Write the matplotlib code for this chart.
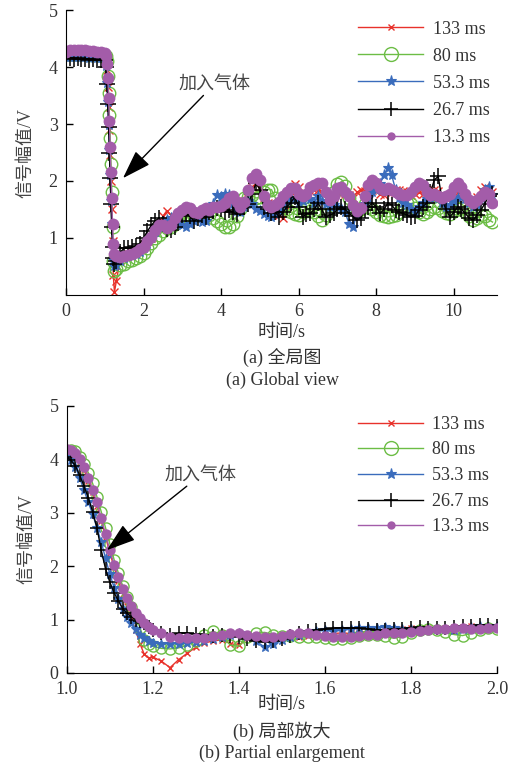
import matplotlib
matplotlib.use("Agg")
import matplotlib.pyplot as plt

plt.rcParams['font.family'] = ['Liberation Serif', 'Noto Sans CJK SC']
plt.rcParams['axes.unicode_minus'] = False

labels = ["133 ms", "80 ms", "53.3 ms", "26.7 ms", "13.3 ms"]

# ---- (a) global view ----
t_global = [0.0, 0.1, 0.2, 0.3, 0.4, 0.5, 0.6, 0.7, 0.8, 0.9, 1.0,
            1.03, 1.06, 1.08, 1.10, 1.12, 1.14, 1.16, 1.18, 1.20, 1.22, 1.25,
            1.3, 1.4, 1.5, 1.6, 1.7, 1.8, 1.9, 2.0, 2.1, 2.2,
            2.3, 2.4, 2.5, 2.6, 2.7, 2.8, 2.9, 3.0, 3.1, 3.2,
            3.3, 3.4, 3.5, 3.6, 3.7, 3.8, 3.9, 4.0, 4.1, 4.2,
            4.3, 4.4, 4.5, 4.6, 4.7, 4.8, 4.9, 5.0, 5.1, 5.2,
            5.3, 5.4, 5.5, 5.6, 5.7, 5.8, 5.9, 6.0, 6.1, 6.2,
            6.3, 6.4, 6.5, 6.6, 6.7, 6.8, 6.9, 7.0, 7.1, 7.2,
            7.3, 7.4, 7.5, 7.6, 7.7, 7.8, 7.9, 8.0, 8.1, 8.2,
            8.3, 8.4, 8.5, 8.6, 8.7, 8.8, 8.9, 9.0, 9.1, 9.2,
            9.3, 9.4, 9.5, 9.6, 9.7, 9.8, 9.9, 10.0, 10.1, 10.2,
            10.3, 10.4, 10.5, 10.6, 10.7, 10.8, 10.9, 11.0]

g_133 = [4.2, 4.2, 4.21, 4.2, 4.2, 4.21, 4.2, 4.2, 4.19, 4.19, 4.18,
         4.15, 3.95, 3.65, 3.3, 2.9, 2.45, 2.0, 1.5, 0.95, 0.35, 0.05,
         0.25, 0.62, 0.7, 0.72, 0.74, 0.78, 0.82, 0.9, 0.95, 1.0,
         1.1, 1.25, 1.38, 1.48, 1.4, 1.32, 1.38, 1.42, 1.48, 1.45,
         1.42, 1.44, 1.48, 1.5, 1.5, 1.52, 1.55, 1.55, 1.58, 1.6,
         1.62, 1.55, 1.58, 1.65, 1.8, 1.9, 1.95, 1.9, 1.7, 1.62,
         1.6, 1.52, 1.4, 1.35, 1.55, 1.8, 1.95, 1.9, 1.8, 1.75,
         1.82, 1.85, 1.85, 1.8, 1.7, 1.65, 1.72, 1.8, 1.8, 1.78,
         1.75, 1.7, 1.8, 1.84, 1.82, 1.8, 1.85, 1.82, 1.78, 1.75,
         1.8, 1.8, 1.85, 1.85, 1.82, 1.8, 1.75, 1.78, 1.8, 1.78,
         1.72, 1.7, 1.85, 1.82, 1.72, 1.7, 1.75, 1.8, 1.8, 1.78,
         1.72, 1.65, 1.6, 1.72, 1.85, 1.9, 1.85, 1.8]
g_80 = [4.23, 4.22, 4.22, 4.23, 4.22, 4.22, 4.21, 4.22, 4.21, 4.21, 4.2,
        4.2, 4.1, 3.85, 3.55, 3.15, 2.75, 2.3, 1.8, 1.2, 0.6, 0.42,
        0.45, 0.52, 0.55, 0.6, 0.62, 0.65, 0.68, 0.73, 0.82, 0.92,
        1.0, 1.05, 1.12, 1.18, 1.2, 1.25, 1.3, 1.32, 1.35, 1.4,
        1.38, 1.4, 1.42, 1.45, 1.4, 1.35, 1.3, 1.25, 1.2, 1.19,
        1.25, 1.38, 1.5, 1.7, 1.72, 1.75, 1.7, 1.72, 1.8, 1.85,
        1.85, 1.7, 1.6, 1.55, 1.5, 1.46, 1.42, 1.4, 1.45, 1.5,
        1.48, 1.45, 1.38, 1.32, 1.4, 1.6, 1.8, 1.95, 1.98, 1.92,
        1.7, 1.55, 1.45, 1.5, 1.6, 1.55, 1.5, 1.45, 1.4, 1.38,
        1.37, 1.38, 1.4, 1.45, 1.55, 1.62, 1.6, 1.52, 1.45, 1.42,
        1.45, 1.5, 1.55, 1.52, 1.48, 1.43, 1.42, 1.48, 1.5, 1.52,
        1.45, 1.38, 1.32, 1.35, 1.4, 1.38, 1.32, 1.28]
g_53 = [4.17, 4.18, 4.17, 4.18, 4.17, 4.17, 4.16, 4.17, 4.16, 4.16, 4.15,
        4.02, 3.72, 3.38, 2.98, 2.55, 2.1, 1.65, 1.25, 0.9, 0.62, 0.5,
        0.52, 0.6, 0.65, 0.68, 0.7, 0.72, 0.76, 0.82, 0.9, 1.0,
        1.1, 1.2, 1.28, 1.32, 1.35, 1.3, 1.25, 1.22, 1.2, 1.25,
        1.3, 1.35, 1.28, 1.3, 1.45, 1.6, 1.75, 1.72, 1.78, 1.75,
        1.6, 1.48, 1.45, 1.55, 1.65, 1.6, 1.5, 1.48, 1.42, 1.38,
        1.37, 1.42, 1.48, 1.58, 1.65, 1.7, 1.68, 1.62, 1.65, 1.72,
        1.68, 1.62, 1.73, 1.65, 1.6, 1.55, 1.58, 1.55, 1.5, 1.45,
        1.25, 1.19, 1.4, 1.5, 1.6, 1.7, 1.8, 1.85, 1.95, 2.1,
        2.22, 2.1, 1.85, 1.7, 1.62, 1.58, 1.5, 1.45, 1.55, 1.62,
        1.68, 1.7, 1.72, 1.7, 1.62, 1.55, 1.58, 1.65, 1.7, 1.72,
        1.68, 1.62, 1.55, 1.58, 1.7, 1.85, 1.9, 1.75]
g_26 = [4.15, 4.15, 4.14, 4.15, 4.14, 4.14, 4.13, 4.14, 4.13, 4.13, 4.12,
        4.0, 3.7, 3.35, 2.95, 2.5, 2.05, 1.6, 1.2, 0.85, 0.65, 0.55,
        0.6, 0.75, 0.82, 0.82, 0.84, 0.86, 0.9, 1.0, 1.12, 1.22,
        1.3, 1.35, 1.25, 1.15, 1.14, 1.2, 1.3, 1.4, 1.42, 1.38,
        1.29, 1.35, 1.4, 1.37, 1.45, 1.48, 1.52, 1.5, 1.45, 1.49,
        1.45, 1.42, 1.52, 1.55, 1.6, 1.78, 1.96, 1.85, 1.55, 1.5,
        1.43, 1.45, 1.37, 1.45, 1.55, 1.62, 1.72, 1.55, 1.37, 1.42,
        1.43, 1.5, 1.61, 1.5, 1.37, 1.4, 1.43, 1.5, 1.55, 1.5,
        1.43, 1.38, 1.31, 1.35, 1.49, 1.55, 1.61, 1.55, 1.43, 1.5,
        1.61, 1.58, 1.49, 1.45, 1.43, 1.4, 1.37, 1.38, 1.49, 1.55,
        1.61, 1.8, 2.02, 2.08, 1.67, 1.5, 1.37, 1.45, 1.55, 1.5,
        1.43, 1.35, 1.31, 1.4, 1.49, 1.6, 1.73, 1.78]
g_13 = [4.27, 4.3, 4.3, 4.29, 4.3, 4.29, 4.28, 4.28, 4.27, 4.27, 4.25,
        4.2, 4.05, 3.8, 3.45, 3.05, 2.6, 2.15, 1.7, 1.25, 0.9, 0.72,
        0.68, 0.66, 0.68, 0.7, 0.72, 0.76, 0.8, 0.85, 0.94, 1.01,
        1.14, 1.23, 1.23, 1.17, 1.23, 1.35, 1.43, 1.49, 1.55, 1.52,
        1.46, 1.43, 1.49, 1.52, 1.49, 1.54, 1.55, 1.56, 1.61, 1.7,
        1.73, 1.64, 1.55, 1.64, 1.84, 2.05, 2.12, 2.02, 1.73, 1.58,
        1.55, 1.58, 1.64, 1.73, 1.81, 1.87, 1.87, 1.78, 1.73, 1.78,
        1.9, 1.93, 1.96, 1.96, 1.81, 1.67, 1.73, 1.87, 1.9, 1.81,
        1.73, 1.58, 1.47, 1.52, 1.73, 1.93, 2.02, 1.96, 1.87, 1.84,
        1.87, 1.84, 1.81, 1.78, 1.75, 1.75, 1.81, 1.9, 1.96, 1.93,
        1.81, 1.75, 1.78, 1.73, 1.7, 1.73, 1.78, 1.9, 1.96, 1.9,
        1.78, 1.67, 1.61, 1.67, 1.73, 1.81, 1.78, 1.62]

# ---- (b) partial enlargement ----
t_zoom = [1.00, 1.01, 1.02, 1.03, 1.04, 1.05, 1.06, 1.07, 1.08, 1.09, 1.10,
          1.11, 1.12, 1.13, 1.14, 1.15, 1.16, 1.17, 1.18, 1.19, 1.20,
          1.22, 1.24, 1.26, 1.28, 1.30, 1.32, 1.34, 1.36, 1.38, 1.40,
          1.42, 1.44, 1.46, 1.48, 1.50, 1.52, 1.54, 1.56, 1.58, 1.60,
          1.62, 1.64, 1.66, 1.68, 1.70, 1.72, 1.74, 1.76, 1.78, 1.80,
          1.82, 1.84, 1.86, 1.88, 1.90, 1.92, 1.94, 1.96, 1.98, 2.00]

z_133 = [4.1, 4.1, 4.05, 3.95, 3.8, 3.6, 3.38, 3.12, 2.85, 2.55, 2.25,
         1.98, 1.72, 1.48, 1.25, 1.02, 0.8, 0.55, 0.35, 0.28, 0.3,
         0.22, 0.1, 0.25, 0.37, 0.48, 0.56, 0.6, 0.62, 0.55, 0.52,
         0.65, 0.7, 0.68, 0.65, 0.67, 0.68, 0.68, 0.7, 0.7, 0.72,
         0.74, 0.75, 0.74, 0.76, 0.78, 0.8, 0.8, 0.82, 0.83, 0.84,
         0.85, 0.84, 0.83, 0.85, 0.86, 0.87, 0.88, 0.86, 0.85, 0.87]
z_80 = [4.15, 4.18, 4.15, 4.05, 3.92, 3.75, 3.55, 3.3, 3.02, 2.72, 2.42,
        2.12, 1.87, 1.63, 1.42, 1.23, 1.05, 0.85, 0.62, 0.55, 0.5,
        0.46, 0.45, 0.47, 0.52, 0.6, 0.72, 0.78, 0.72, 0.52, 0.5,
        0.68, 0.75, 0.76, 0.72, 0.7, 0.7, 0.68, 0.67, 0.68, 0.66,
        0.63, 0.63, 0.65, 0.7, 0.72, 0.72, 0.69, 0.65, 0.68, 0.74,
        0.8, 0.82, 0.8, 0.77, 0.72, 0.7, 0.74, 0.8, 0.84, 0.82]
z_53 = [4.05, 3.98, 3.85, 3.65, 3.42, 3.2, 2.97, 2.72, 2.45, 2.15, 1.85,
        1.6, 1.38, 1.2, 1.05, 0.93, 0.82, 0.72, 0.65, 0.6, 0.57,
        0.55, 0.55, 0.55, 0.56, 0.58, 0.6, 0.63, 0.68, 0.72, 0.75,
        0.7, 0.6, 0.48, 0.55, 0.62, 0.68, 0.72, 0.75, 0.78, 0.8,
        0.78, 0.8, 0.82, 0.84, 0.85, 0.85, 0.86, 0.85, 0.83, 0.82,
        0.8, 0.82, 0.83, 0.82, 0.8, 0.82, 0.86, 0.88, 0.87, 0.88]
z_26 = [4.05, 3.98, 3.88, 3.7, 3.5, 3.28, 3.02, 2.72, 2.3, 1.95, 1.7,
        1.5, 1.35, 1.2, 1.12, 1.05, 1.0, 0.98, 0.93, 0.87, 0.8,
        0.75, 0.72, 0.74, 0.75, 0.73, 0.72, 0.7, 0.72, 0.7, 0.68,
        0.63, 0.6, 0.58, 0.6, 0.63, 0.7, 0.75, 0.78, 0.8, 0.82,
        0.84, 0.85, 0.84, 0.84, 0.83, 0.8, 0.8, 0.82, 0.83, 0.85,
        0.86, 0.85, 0.84, 0.85, 0.87, 0.88, 0.88, 0.9, 0.9, 0.88]
z_13 = [4.2, 4.18, 4.12, 4.0, 3.85, 3.65, 3.43, 3.2, 2.9, 2.6, 2.3,
        2.03, 1.8, 1.58, 1.4, 1.26, 1.13, 1.03, 0.94, 0.87, 0.81,
        0.74, 0.68, 0.66, 0.66, 0.65, 0.66, 0.7, 0.72, 0.74, 0.74,
        0.72, 0.7, 0.68, 0.68, 0.7, 0.73, 0.75, 0.74, 0.71, 0.69,
        0.67, 0.67, 0.68, 0.7, 0.71, 0.72, 0.74, 0.74, 0.75, 0.76,
        0.78, 0.8, 0.82, 0.83, 0.84, 0.84, 0.83, 0.83, 0.84, 0.85]

colors = ["#e8322b", "#6cbd45", "#3a6cbc", "black", "#a35ca9"]
markers = ["x", "o", "*", "+", "o"]
fills = ["none", "none", "#3a6cbc", "none", "#a35ca9"]
edge_w = [1.0, 1.0, 0.8, 1.1, 0.0]
legend_ms = [5, 10, 8, 10, 6]

txt_color = "#333333"
fs = 13


def draw(ax, t, series, sizes, spacing, top):
    for i, y in enumerate(series):
        ax.plot(t, y, lw=1.0, label=labels[i], color=colors[i], marker=markers[i],
                ms=sizes[i], mew=edge_w[i], mfc=fills[i])
    for s in ["top", "right"]:
        ax.spines[s].set_visible(False)
    ax.tick_params(direction="in", length=5, width=1, labelsize=fs,
                   labelcolor=txt_color, pad=6)
    ax.set_ylim(0, 5)
    ax.set_ylabel("信号幅值/V", fontsize=fs, color="#444444", labelpad=10)
    leg = ax.legend(frameon=False, loc="upper right", bbox_to_anchor=(1.02, top),
                    fontsize=fs, handlelength=3.6, labelspacing=spacing,
                    handletextpad=0.5, labelcolor=txt_color)
    for h, m in zip(leg.legend_handles, legend_ms):
        h.set_markersize(m)


fig = plt.figure(figsize=(5.22, 7.65), dpi=100)

ax1 = fig.add_axes([0.1264, 0.6144, 0.826, 0.3725])
draw(ax1, t_global, [g_133, g_80, g_53, g_26, g_13], [5.5, 9, 8, 11, 8.5], 0.56, 1.02)
ax1.set_xlim(0, 11.12)
ax1.set_xticks([0, 2, 4, 6, 8, 10])
ax1.set_yticks([1, 2, 3, 4, 5])
ax1.annotate("加入气体", xy=(1.47, 2.05), xytext=(2.9, 3.55),
             fontsize=fs, color="#444444", ha="left", va="bottom",
             arrowprops=dict(arrowstyle="-|>,head_length=0.9,head_width=0.3",
                             color="black", lw=1.0, mutation_scale=20,
                             shrinkA=0, shrinkB=0))

ax2 = fig.add_axes([0.128, 0.1203, 0.824, 0.349])
draw(ax2, t_zoom, [z_133, z_80, z_53, z_26, z_13], [5, 8, 7, 10, 7.5], 0.48, 1.024)
ax2.set_xlim(1.0, 2.0)
ax2.set_xticks([1.0, 1.2, 1.4, 1.6, 1.8, 2.0])
ax2.set_xticklabels(["1.0", "1.2", "1.4", "1.6", "1.8", "2.0"])
ax2.set_yticks([0, 1, 2, 3, 4, 5])
ax2.annotate("加入气体", xy=(1.093, 2.3), xytext=(1.228, 3.55),
             fontsize=fs, color="#444444", ha="left", va="bottom",
             arrowprops=dict(arrowstyle="-|>,head_length=0.9,head_width=0.3",
                             color="black", lw=1.0, mutation_scale=20,
                             shrinkA=0, shrinkB=0))

# x labels and captions
W, H = 522.0, 765.0
for txt, y in [("时间/s", 332), ("(a) 全局图", 357), ("(a) Global view", 380),
               ("时间/s", 705), ("(b) 局部放大", 731), ("(b) Partial enlargement", 753)]:
    fig.text(282 / W, 1 - y / H, txt, fontsize=fs, color=txt_color,
             ha="center", va="center")

fig.savefig("out.png", dpi=100)
